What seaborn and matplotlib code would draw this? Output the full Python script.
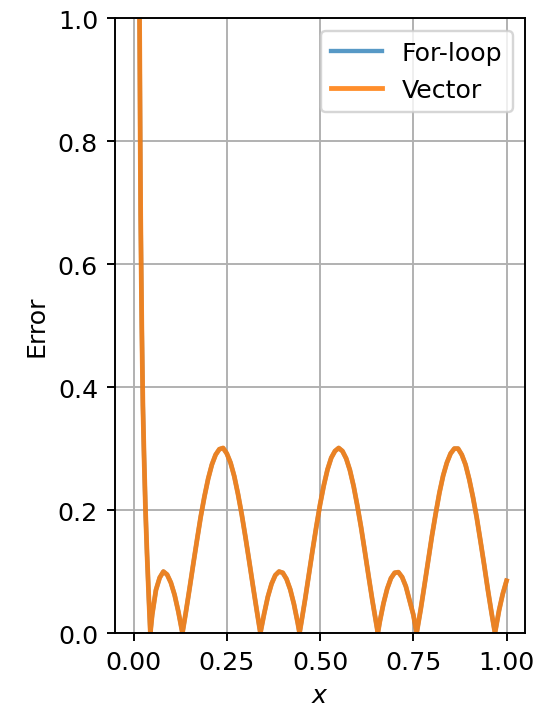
import numpy as np
import pandas as pd
import matplotlib
matplotlib.use("Agg")
import matplotlib.pyplot as plt
import seaborn as sns

# error curve (x, error); both methods give the same curve
x_vals = [0.000, 0.010, 0.016, 0.019, 0.022, 0.025, 0.028, 0.032, 0.036, 0.041, 0.045,
          0.050, 0.060, 0.070, 0.080, 0.090, 0.100, 0.110, 0.120, 0.131, 0.140,
          0.150, 0.160, 0.170, 0.180, 0.190, 0.200, 0.210, 0.220, 0.230, 0.240,
          0.250, 0.260, 0.270, 0.280, 0.290, 0.300, 0.310, 0.320, 0.330, 0.340,
          0.350, 0.360, 0.370, 0.380, 0.390, 0.400, 0.410, 0.420, 0.430, 0.440,
          0.445, 0.450, 0.460, 0.470, 0.480, 0.490, 0.500, 0.510, 0.520, 0.530,
          0.540, 0.550, 0.560, 0.570, 0.580, 0.590, 0.600, 0.610, 0.620, 0.630,
          0.640, 0.655, 0.660, 0.670, 0.680, 0.690, 0.700, 0.710, 0.720, 0.730,
          0.740, 0.750, 0.759, 0.770, 0.780, 0.790, 0.800, 0.810, 0.820, 0.830,
          0.840, 0.850, 0.860, 0.870, 0.880, 0.890, 0.900, 0.910, 0.920, 0.930,
          0.940, 0.950, 0.960, 0.969, 0.980, 0.990, 1.000]
err_loop = [3.500, 1.900, 1.000, 0.680, 0.500, 0.370, 0.290, 0.200, 0.130, 0.055, 0.000,
            0.030, 0.070, 0.090, 0.100, 0.095, 0.082, 0.062, 0.035, 0.000, 0.033,
            0.072, 0.112, 0.151, 0.189, 0.222, 0.251, 0.274, 0.290, 0.299, 0.301,
            0.292, 0.277, 0.255, 0.226, 0.193, 0.156, 0.117, 0.077, 0.038, 0.000,
            0.031, 0.059, 0.080, 0.094, 0.100, 0.098, 0.088, 0.071, 0.047, 0.017,
            0.000, 0.018, 0.055, 0.095, 0.135, 0.173, 0.209, 0.240, 0.266, 0.285,
            0.296, 0.301, 0.296, 0.284, 0.265, 0.239, 0.207, 0.172, 0.133, 0.093,
            0.054, 0.000, 0.018, 0.048, 0.072, 0.089, 0.098, 0.099, 0.091, 0.076,
            0.053, 0.030, 0.000, 0.039, 0.078, 0.118, 0.158, 0.194, 0.228, 0.256,
            0.277, 0.292, 0.300, 0.300, 0.290, 0.274, 0.250, 0.221, 0.188, 0.150,
            0.111, 0.070, 0.032, 0.000, 0.037, 0.064, 0.085]
err_vec = list(err_loop)

df = pd.DataFrame({"x": x_vals, "loop": err_loop, "vec": err_vec})

plt.rcParams['font.size'] = 10.5
fig, ax = plt.subplots(figsize=(537 / 172.8, 714 / 172.8), dpi=172.8)
plt.subplots_adjust(left=0.214, right=0.978, top=0.973, bottom=0.112)

sns.lineplot(data=df, x="x", y="loop", ax=ax, label="For-loop", color="tab:blue", lw=1.8, alpha=0.75)
sns.lineplot(data=df, x="x", y="vec", ax=ax, label="Vector", color="tab:orange", lw=2, alpha=0.88)

ax.set_xlim(-0.05, 1.05)
ax.set_ylim(0, 1)
ax.set_xticks([0.0, 0.25, 0.5, 0.75, 1.0])
ax.set_xlabel("$x$")
ax.set_ylabel("Error")
ax.grid(True)
ax.legend(loc="upper right")

fig.savefig("out.png", dpi=172.8)
